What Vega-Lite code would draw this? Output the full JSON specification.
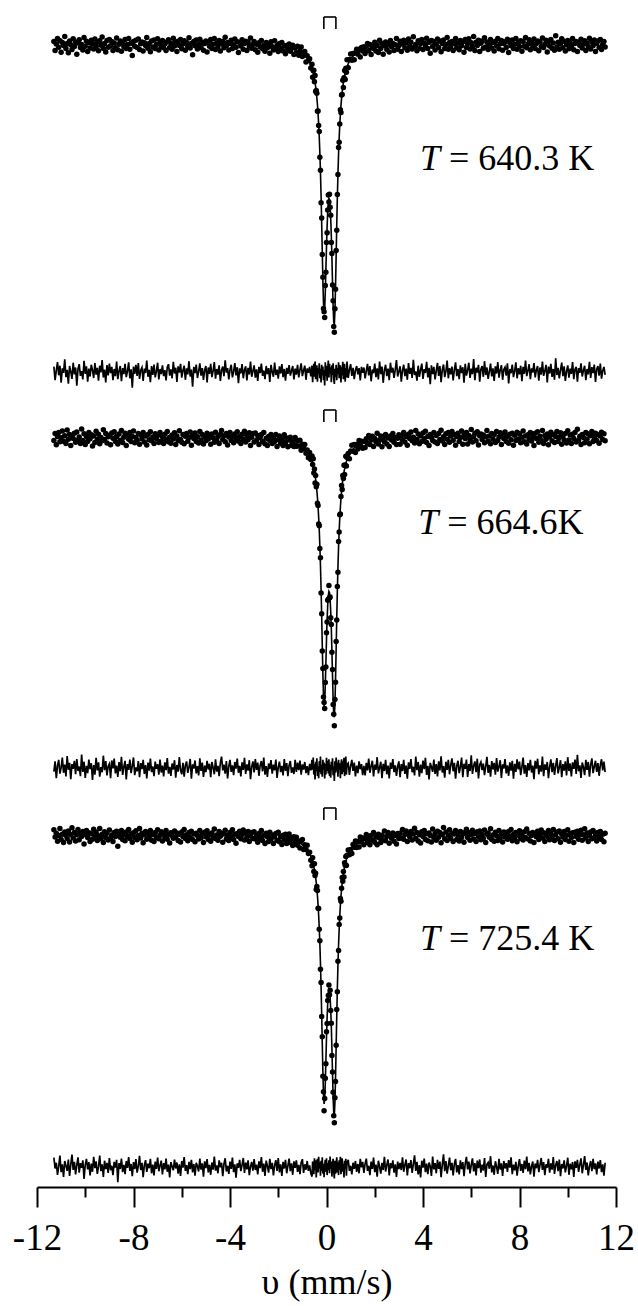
{
  "$schema": "https://vega.github.io/schema/vega-lite/v6.json",
  "autosize": {"type": "none"},
  "width": 579,
  "height": 1187,
  "padding": {"left": 37, "top": 0, "right": 22, "bottom": 119},
  "background": "white",
  "config": {"view": {"stroke": null}, "font": "Liberation Serif"},
  "data": {"values": [
    {"v":-11.3,"a":100.18,"b":99.88,"c":100.31,"p":0.18,"q":-0.12,"r":0.31},
    {"v":-11.25,"a":99.73,"b":100.22,"c":99.95,"p":-0.27,"q":0.22,"r":-0.05},
    {"v":-11.2,"a":100.05,"b":99.66,"c":100.14,"p":0.05,"q":-0.34,"r":0.14},
    {"v":-11.15,"a":100.33,"b":100.08,"c":99.74,"p":0.33,"q":0.08,"r":-0.26},
    {"v":-11.1,"a":99.89,"b":100.27,"c":100.02,"p":-0.11,"q":0.27,"r":0.02},
    {"v":-11.05,"a":100.21,"b":99.81,"c":100.38,"p":0.21,"q":-0.19,"r":0.38},
    {"v":-11.0,"a":99.64,"b":100.01,"c":99.83,"p":-0.36,"q":0.01,"r":-0.17},
    {"v":-10.95,"a":100.12,"b":100.35,"c":100.09,"p":0.12,"q":0.35,"r":0.09},
    {"v":-10.9,"a":99.97,"b":99.84,"c":99.67,"p":-0.03,"q":-0.16,"r":-0.33},
    {"v":-10.85,"a":100.42,"b":100.11,"c":100.2,"p":0.42,"q":0.11,"r":0.2},
    {"v":-10.8,"a":99.83,"b":99.72,"c":100.04,"p":-0.17,"q":-0.28,"r":0.04},
    {"v":-10.75,"a":100.07,"b":100.4,"c":99.87,"p":0.07,"q":0.4,"r":-0.13},
    {"v":-10.7,"a":99.61,"b":99.94,"c":100.25,"p":-0.39,"q":-0.06,"r":0.25},
    {"v":-10.65,"a":100.2,"b":100.17,"c":99.7,"p":0.2,"q":0.17,"r":-0.3},
    {"v":-10.6,"a":100.01,"b":99.63,"c":100.08,"p":0.01,"q":-0.37,"r":0.08},
    {"v":-10.55,"a":99.77,"b":100.13,"c":100.41,"p":-0.23,"q":0.13,"r":0.41},
    {"v":-10.5,"a":100.31,"b":99.97,"c":99.9,"p":0.31,"q":-0.03,"r":-0.1},
    {"v":-10.45,"a":99.92,"b":100.24,"c":100.17,"p":-0.08,"q":0.24,"r":0.17},
    {"v":-10.4,"a":100.15,"b":99.79,"c":99.75,"p":0.15,"q":-0.21,"r":-0.25},
    {"v":-10.35,"a":99.54,"b":100.3,"c":100.06,"p":-0.46,"q":0.3,"r":0.06},
    {"v":-10.3,"a":100.1,"b":99.9,"c":100.32,"p":0.1,"q":-0.1,"r":0.32},
    {"v":-10.25,"a":100.26,"b":100.05,"c":99.81,"p":0.26,"q":0.05,"r":-0.19},
    {"v":-10.2,"a":99.87,"b":99.73,"c":100.13,"p":-0.13,"q":-0.27,"r":0.13},
    {"v":-10.15,"a":100.03,"b":100.45,"c":99.97,"p":0.03,"q":0.45,"r":-0.03},
    {"v":-10.1,"a":99.75,"b":99.87,"c":100.22,"p":-0.25,"q":-0.13,"r":0.22},
    {"v":-10.05,"a":100.37,"b":100.21,"c":99.6,"p":0.37,"q":0.21,"r":-0.4},
    {"v":-10.0,"a":99.94,"b":99.67,"c":100.07,"p":-0.06,"q":-0.33,"r":0.07},
    {"v":-9.95,"a":100.19,"b":100.07,"c":100.27,"p":0.19,"q":0.07,"r":0.27},
    {"v":-9.9,"a":99.68,"b":99.83,"c":99.92,"p":-0.32,"q":-0.17,"r":-0.08},
    {"v":-9.85,"a":100.11,"b":100.28,"c":100.16,"p":0.11,"q":0.28,"r":0.16},
    {"v":-9.8,"a":99.85,"b":99.96,"c":99.72,"p":-0.15,"q":-0.04,"r":-0.28},
    {"v":-9.75,"a":100.24,"b":100.16,"c":100.11,"p":0.24,"q":0.16,"r":0.11},
    {"v":-9.7,"a":100.06,"b":99.6,"c":99.84,"p":0.06,"q":-0.4,"r":-0.16},
    {"v":-9.65,"a":99.8,"b":100.1,"c":100.34,"p":-0.2,"q":0.1,"r":0.34},
    {"v":-9.6,"a":100.3,"b":99.78,"c":99.96,"p":0.3,"q":-0.22,"r":-0.04},
    {"v":-9.55,"a":99.91,"b":100.34,"c":100.19,"p":-0.09,"q":0.34,"r":0.19},
    {"v":-9.5,"a":100.14,"b":99.92,"c":99.77,"p":0.14,"q":-0.08,"r":-0.23},
    {"v":-9.45,"a":99.71,"b":100.19,"c":100.01,"p":-0.29,"q":0.19,"r":0.01},
    {"v":-9.4,"a":100.21,"b":99.71,"c":100.38,"p":0.21,"q":-0.29,"r":0.38},
    {"v":-9.35,"a":99.99,"b":100.03,"c":99.86,"p":-0.01,"q":0.03,"r":-0.14},
    {"v":-9.3,"a":100.4,"b":99.86,"c":100.09,"p":0.4,"q":-0.14,"r":0.09},
    {"v":-9.25,"a":99.82,"b":100.41,"c":99.67,"p":-0.18,"q":0.41,"r":-0.33},
    {"v":-9.2,"a":100.08,"b":99.93,"c":100.21,"p":0.08,"q":-0.07,"r":0.21},
    {"v":-9.15,"a":99.65,"b":100.23,"c":99.93,"p":-0.35,"q":0.23,"r":-0.07},
    {"v":-9.1,"a":100.23,"b":99.75,"c":100.14,"p":0.23,"q":-0.25,"r":0.14},
    {"v":-9.05,"a":99.89,"b":100.06,"c":99.8,"p":-0.11,"q":0.06,"r":-0.2},
    {"v":-9.0,"a":100.28,"b":100.14,"c":100.3,"p":0.28,"q":0.14,"r":0.3},
    {"v":-8.95,"a":99.96,"b":99.66,"c":99.89,"p":-0.04,"q":-0.34,"r":-0.11},
    {"v":-8.9,"a":100.17,"b":100.25,"c":100.04,"p":0.17,"q":0.25,"r":0.04},
    {"v":-8.85,"a":99.73,"b":99.99,"c":99.73,"p":-0.27,"q":-0.01,"r":-0.27},
    {"v":-8.8,"a":100.1,"b":100.31,"c":100.17,"p":0.1,"q":0.31,"r":0.17},
    {"v":-8.75,"a":99.86,"b":99.82,"c":99.98,"p":-0.14,"q":-0.18,"r":-0.02},
    {"v":-8.7,"a":100.35,"b":100.08,"c":100.24,"p":0.35,"q":0.08,"r":0.24},
    {"v":-8.65,"a":99.76,"b":99.7,"c":99.49,"p":-0.24,"q":-0.3,"r":-0.51},
    {"v":-8.6,"a":100.04,"b":100.2,"c":100.13,"p":0.04,"q":0.2,"r":0.13},
    {"v":-8.55,"a":100.2,"b":99.89,"c":99.94,"p":0.2,"q":-0.11,"r":-0.06},
    {"v":-8.5,"a":99.69,"b":100.37,"c":100.28,"p":-0.31,"q":0.37,"r":0.28},
    {"v":-8.45,"a":100.13,"b":99.77,"c":99.83,"p":0.13,"q":-0.23,"r":-0.17},
    {"v":-8.4,"a":99.93,"b":100.04,"c":100.07,"p":-0.07,"q":0.04,"r":0.07},
    {"v":-8.35,"a":100.27,"b":100.24,"c":99.76,"p":0.27,"q":0.24,"r":-0.24},
    {"v":-8.3,"a":99.83,"b":99.62,"c":100.2,"p":-0.17,"q":-0.38,"r":0.2},
    {"v":-8.25,"a":100.03,"b":100.13,"c":99.97,"p":0.03,"q":0.13,"r":-0.03},
    {"v":-8.2,"a":100.32,"b":99.94,"c":100.33,"p":0.32,"q":-0.06,"r":0.33},
    {"v":-8.15,"a":99.79,"b":100.28,"c":99.87,"p":-0.21,"q":0.28,"r":-0.13},
    {"v":-8.1,"a":100.09,"b":99.83,"c":100.1,"p":0.09,"q":-0.17,"r":0.1},
    {"v":-8.05,"a":99.48,"b":100.07,"c":99.69,"p":-0.52,"q":0.07,"r":-0.31},
    {"v":-8.0,"a":100.18,"b":100.35,"c":100.16,"p":0.18,"q":0.35,"r":0.16},
    {"v":-7.95,"a":99.94,"b":99.76,"c":99.93,"p":-0.06,"q":-0.24,"r":-0.07},
    {"v":-7.9,"a":100.24,"b":100.02,"c":100.26,"p":0.24,"q":0.02,"r":0.26},
    {"v":-7.85,"a":99.87,"b":99.89,"c":99.81,"p":-0.13,"q":-0.11,"r":-0.19},
    {"v":-7.8,"a":100.3,"b":100.23,"c":100.03,"p":0.3,"q":0.23,"r":0.03},
    {"v":-7.75,"a":99.77,"b":99.69,"c":100.37,"p":-0.23,"q":-0.31,"r":0.37},
    {"v":-7.7,"a":100.06,"b":100.16,"c":99.9,"p":0.06,"q":0.16,"r":-0.1},
    {"v":-7.65,"a":100.15,"b":99.96,"c":100.14,"p":0.15,"q":-0.04,"r":0.14},
    {"v":-7.6,"a":99.7,"b":100.27,"c":99.66,"p":-0.3,"q":0.27,"r":-0.34},
    {"v":-7.55,"a":100.11,"b":99.8,"c":100.06,"p":0.11,"q":-0.2,"r":0.06},
    {"v":-7.5,"a":99.97,"b":100.1,"c":100.23,"p":-0.03,"q":0.1,"r":0.23},
    {"v":-7.45,"a":100.38,"b":99.65,"c":99.84,"p":0.38,"q":-0.35,"r":-0.16},
    {"v":-7.4,"a":99.84,"b":100.18,"c":100.11,"p":-0.16,"q":0.18,"r":0.11},
    {"v":-7.35,"a":100.07,"b":99.91,"c":99.96,"p":0.07,"q":-0.09,"r":-0.04},
    {"v":-7.3,"a":99.66,"b":100.31,"c":100.27,"p":-0.34,"q":0.31,"r":0.27},
    {"v":-7.25,"a":100.2,"b":99.86,"c":99.79,"p":0.2,"q":-0.14,"r":-0.21},
    {"v":-7.2,"a":99.9,"b":100.05,"c":100.08,"p":-0.1,"q":0.05,"r":0.08},
    {"v":-7.15,"a":100.25,"b":99.73,"c":99.72,"p":0.25,"q":-0.27,"r":-0.28},
    {"v":-7.1,"a":99.82,"b":100.21,"c":100.18,"p":-0.18,"q":0.21,"r":0.18},
    {"v":-7.05,"a":100.02,"b":99.97,"c":99.94,"p":0.02,"q":-0.03,"r":-0.06},
    {"v":-7.0,"a":100.31,"b":100.13,"c":100.31,"p":0.31,"q":0.13,"r":0.31},
    {"v":-6.95,"a":99.75,"b":99.78,"c":99.86,"p":-0.25,"q":-0.22,"r":-0.14},
    {"v":-6.9,"a":100.1,"b":100.28,"c":100.04,"p":0.1,"q":0.28,"r":0.04},
    {"v":-6.85,"a":99.93,"b":99.85,"c":100.21,"p":-0.07,"q":-0.15,"r":0.21},
    {"v":-6.8,"a":100.22,"b":100.08,"c":99.75,"p":0.22,"q":0.08,"r":-0.25},
    {"v":-6.75,"a":99.86,"b":99.72,"c":100.13,"p":-0.14,"q":-0.28,"r":0.13},
    {"v":-6.7,"a":100.06,"b":100.19,"c":99.92,"p":0.06,"q":0.19,"r":-0.08},
    {"v":-6.65,"a":99.72,"b":99.93,"c":100.28,"p":-0.28,"q":-0.07,"r":0.28},
    {"v":-6.6,"a":100.16,"b":100.33,"c":99.84,"p":0.16,"q":0.33,"r":-0.16},
    {"v":-6.55,"a":100.26,"b":99.81,"c":100.08,"p":0.26,"q":-0.19,"r":0.08},
    {"v":-6.5,"a":99.88,"b":100.04,"c":99.65,"p":-0.12,"q":0.04,"r":-0.35},
    {"v":-6.45,"a":100.09,"b":99.74,"c":100.16,"p":0.09,"q":-0.26,"r":0.16},
    {"v":-6.4,"a":99.79,"b":100.15,"c":100.02,"p":-0.21,"q":0.15,"r":0.02},
    {"v":-6.35,"a":100.34,"b":99.95,"c":99.89,"p":0.34,"q":-0.05,"r":-0.11},
    {"v":-6.3,"a":99.95,"b":100.26,"c":100.25,"p":-0.05,"q":0.26,"r":0.25},
    {"v":-6.25,"a":100.14,"b":99.68,"c":99.95,"p":0.14,"q":-0.32,"r":-0.05},
    {"v":-6.2,"a":99.67,"b":100.1,"c":100.15,"p":-0.33,"q":0.1,"r":0.15},
    {"v":-6.15,"a":100.19,"b":99.88,"c":99.78,"p":0.19,"q":-0.12,"r":-0.22},
    {"v":-6.1,"a":99.98,"b":100.36,"c":100.09,"p":-0.02,"q":0.36,"r":0.09},
    {"v":-6.05,"a":100.27,"b":99.92,"c":99.7,"p":0.27,"q":-0.08,"r":-0.3},
    {"v":-6.0,"a":99.81,"b":99.79,"c":100.2,"p":-0.19,"q":-0.21,"r":0.2},
    {"v":-5.95,"a":100.05,"b":100.17,"c":99.98,"p":0.05,"q":0.17,"r":-0.02},
    {"v":-5.9,"a":100.21,"b":99.71,"c":100.33,"p":0.21,"q":-0.29,"r":0.33},
    {"v":-5.85,"a":99.74,"b":100.09,"c":99.87,"p":-0.26,"q":0.09,"r":-0.13},
    {"v":-5.8,"a":100.12,"b":100.22,"c":100.06,"p":0.12,"q":0.22,"r":0.06},
    {"v":-5.75,"a":99.92,"b":99.84,"c":99.76,"p":-0.08,"q":-0.16,"r":-0.24},
    {"v":-5.7,"a":100.36,"b":100.03,"c":100.17,"p":0.36,"q":0.03,"r":0.17},
    {"v":-5.65,"a":99.85,"b":100.3,"c":99.93,"p":-0.15,"q":0.3,"r":-0.07},
    {"v":-5.6,"a":100.08,"b":99.64,"c":100.24,"p":0.08,"q":-0.36,"r":0.24},
    {"v":-5.55,"a":99.51,"b":100.12,"c":99.82,"p":-0.49,"q":0.12,"r":-0.18},
    {"v":-5.5,"a":100.17,"b":99.98,"c":100.1,"p":0.17,"q":-0.02,"r":0.1},
    {"v":-5.45,"a":99.96,"b":100.25,"c":99.71,"p":-0.04,"q":0.25,"r":-0.29},
    {"v":-5.4,"a":100.25,"b":99.82,"c":100.14,"p":0.25,"q":-0.18,"r":0.14},
    {"v":-5.35,"a":99.8,"b":100.06,"c":100.03,"p":-0.2,"q":0.06,"r":0.03},
    {"v":-5.3,"a":100.02,"b":99.75,"c":99.85,"p":0.02,"q":-0.25,"r":-0.15},
    {"v":-5.25,"a":100.29,"b":100.32,"c":100.28,"p":0.29,"q":0.32,"r":0.28},
    {"v":-5.2,"a":99.88,"b":99.9,"c":99.91,"p":-0.12,"q":-0.1,"r":-0.09},
    {"v":-5.15,"a":100.13,"b":100.18,"c":100.12,"p":0.13,"q":0.18,"r":0.12},
    {"v":-5.1,"a":99.74,"b":99.7,"c":99.68,"p":-0.26,"q":-0.3,"r":-0.32},
    {"v":-5.05,"a":100.07,"b":100.08,"c":100.19,"p":0.07,"q":0.08,"r":0.19},
    {"v":-5.0,"a":100.2,"b":99.86,"c":99.96,"p":0.2,"q":-0.14,"r":-0.04},
    {"v":-4.95,"a":99.65,"b":100.24,"c":100.26,"p":-0.35,"q":0.24,"r":0.26},
    {"v":-4.9,"a":100.15,"b":99.95,"c":99.82,"p":0.15,"q":-0.05,"r":-0.18},
    {"v":-4.85,"a":99.94,"b":100.14,"c":100.07,"p":-0.06,"q":0.14,"r":0.07},
    {"v":-4.8,"a":100.27,"b":99.69,"c":99.74,"p":0.27,"q":-0.31,"r":-0.26},
    {"v":-4.75,"a":99.83,"b":100.2,"c":100.15,"p":-0.17,"q":0.2,"r":0.15},
    {"v":-4.7,"a":100.04,"b":100.01,"c":99.91,"p":0.04,"q":0.01,"r":-0.09},
    {"v":-4.65,"a":100.33,"b":99.79,"c":100.35,"p":0.33,"q":-0.21,"r":0.35},
    {"v":-4.6,"a":99.78,"b":100.29,"c":99.88,"p":-0.22,"q":0.29,"r":-0.12},
    {"v":-4.55,"a":100.1,"b":99.88,"c":100.05,"p":0.1,"q":-0.12,"r":0.05},
    {"v":-4.5,"a":99.91,"b":100.07,"c":99.79,"p":-0.09,"q":0.07,"r":-0.21},
    {"v":-4.45,"a":100.22,"b":99.73,"c":100.22,"p":0.22,"q":-0.27,"r":0.22},
    {"v":-4.4,"a":99.7,"b":100.17,"c":99.99,"p":-0.3,"q":0.17,"r":-0.01},
    {"v":-4.35,"a":100.06,"b":100.38,"c":100.14,"p":0.06,"q":0.38,"r":0.14},
    {"v":-4.3,"a":100.18,"b":99.92,"c":99.69,"p":0.18,"q":-0.08,"r":-0.31},
    {"v":-4.25,"a":99.86,"b":100.11,"c":100.1,"p":-0.14,"q":0.11,"r":0.1},
    {"v":-4.2,"a":100.39,"b":99.81,"c":100.29,"p":0.39,"q":-0.19,"r":0.29},
    {"v":-4.15,"a":99.98,"b":100.23,"c":99.85,"p":-0.02,"q":0.23,"r":-0.15},
    {"v":-4.1,"a":100.13,"b":99.65,"c":100.04,"p":0.13,"q":-0.35,"r":0.04},
    {"v":-4.05,"a":99.75,"b":100.05,"c":99.77,"p":-0.25,"q":0.05,"r":-0.23},
    {"v":-4.0,"a":100.08,"b":100.27,"c":100.18,"p":0.08,"q":0.27,"r":0.18},
    {"v":-3.95,"a":100.24,"b":99.87,"c":99.94,"p":0.24,"q":-0.13,"r":-0.06},
    {"v":-3.9,"a":99.82,"b":100.09,"c":100.31,"p":-0.18,"q":0.09,"r":0.31},
    {"v":-3.85,"a":100.01,"b":99.76,"c":99.83,"p":0.01,"q":-0.24,"r":-0.17},
    {"v":-3.8,"a":100.3,"b":100.2,"c":100.09,"p":0.3,"q":0.2,"r":0.09},
    {"v":-3.75,"a":99.89,"b":99.98,"c":99.64,"p":-0.11,"q":-0.02,"r":-0.36},
    {"v":-3.7,"a":100.16,"b":100.31,"c":100.12,"p":0.16,"q":0.31,"r":0.12},
    {"v":-3.65,"a":99.63,"b":99.84,"c":99.97,"p":-0.37,"q":-0.16,"r":-0.03},
    {"v":-3.6,"a":100.12,"b":100.07,"c":100.24,"p":0.12,"q":0.07,"r":0.24},
    {"v":-3.55,"a":99.95,"b":99.72,"c":99.86,"p":-0.05,"q":-0.28,"r":-0.14},
    {"v":-3.5,"a":100.26,"b":100.19,"c":100.07,"p":0.26,"q":0.19,"r":0.07},
    {"v":-3.45,"a":99.79,"b":99.94,"c":100.3,"p":-0.21,"q":-0.06,"r":0.3},
    {"v":-3.4,"a":100.07,"b":100.34,"c":99.8,"p":0.07,"q":0.34,"r":-0.2},
    {"v":-3.35,"a":100.19,"b":99.8,"c":100.15,"p":0.19,"q":-0.2,"r":0.15},
    {"v":-3.3,"a":99.72,"b":100.12,"c":99.92,"p":-0.28,"q":0.12,"r":-0.08},
    {"v":-3.25,"a":100.14,"b":99.91,"c":100.22,"p":0.14,"q":-0.09,"r":0.22},
    {"v":-3.2,"a":99.92,"b":100.26,"c":99.73,"p":-0.08,"q":0.26,"r":-0.27},
    {"v":-3.15,"a":100.35,"b":99.63,"c":100.01,"p":0.35,"q":-0.37,"r":0.01},
    {"v":-3.1,"a":99.84,"b":100.04,"c":100.17,"p":-0.16,"q":0.04,"r":0.17},
    {"v":-3.05,"a":100.03,"b":100.22,"c":99.88,"p":0.03,"q":0.22,"r":-0.12},
    {"v":-3.0,"a":100.17,"b":99.8,"c":100.21,"p":0.22,"q":-0.15,"r":0.26},
    {"v":-2.95,"a":99.76,"b":100.25,"c":99.85,"p":-0.19,"q":0.3,"r":-0.1},
    {"v":-2.9,"a":100.04,"b":99.89,"c":100.03,"p":0.09,"q":-0.06,"r":0.08},
    {"v":-2.85,"a":99.64,"b":100.12,"c":99.69,"p":-0.3,"q":0.18,"r":-0.25},
    {"v":-2.8,"a":100.11,"b":99.68,"c":100.13,"p":0.17,"q":-0.26,"r":0.19},
    {"v":-2.75,"a":99.9,"b":100.03,"c":99.9,"p":-0.04,"q":0.09,"r":-0.04},
    {"v":-2.7,"a":100.22,"b":100.17,"c":100.27,"p":0.28,"q":0.23,"r":0.33},
    {"v":-2.65,"a":99.81,"b":99.83,"c":99.78,"p":-0.13,"q":-0.11,"r":-0.16},
    {"v":-2.6,"a":99.98,"b":100.28,"c":100.04,"p":0.05,"q":0.35,"r":0.11},
    {"v":-2.55,"a":99.69,"b":99.71,"c":99.63,"p":-0.24,"q":-0.22,"r":-0.3},
    {"v":-2.5,"a":100.13,"b":99.99,"c":100.14,"p":0.2,"q":0.06,"r":0.21},
    {"v":-2.45,"a":99.86,"b":99.63,"c":99.96,"p":-0.07,"q":-0.3,"r":0.03},
    {"v":-2.4,"a":100.05,"b":100.07,"c":99.73,"p":0.13,"q":0.15,"r":-0.19},
    {"v":-2.35,"a":99.59,"b":99.88,"c":100.19,"p":-0.33,"q":-0.04,"r":0.27},
    {"v":-2.3,"a":100.16,"b":100.18,"c":99.85,"p":0.24,"q":0.26,"r":-0.07},
    {"v":-2.25,"a":99.91,"b":99.72,"c":100.05,"p":0.0,"q":-0.19,"r":0.14},
    {"v":-2.2,"a":99.75,"b":100.02,"c":99.63,"p":-0.16,"q":0.11,"r":-0.28},
    {"v":-2.15,"a":100.21,"b":99.82,"c":99.96,"p":0.31,"q":-0.08,"r":0.06},
    {"v":-2.1,"a":99.8,"b":100.18,"c":100.13,"p":-0.1,"q":0.28,"r":0.23},
    {"v":-2.05,"a":99.98,"b":99.57,"c":99.77,"p":0.08,"q":-0.33,"r":-0.13},
    {"v":-2.0,"f":99.89,"a":99.67,"b":99.91,"c":100.19,"p":-0.22,"q":0.02,"r":0.3},
    {"v":-1.95,"f":99.89,"a":100.08,"b":100.1,"c":99.71,"p":0.19,"q":0.21,"r":-0.18},
    {"v":-1.9,"f":99.88,"a":99.83,"b":99.74,"c":99.97,"p":-0.05,"q":-0.14,"r":0.09},
    {"v":-1.85,"f":99.87,"a":100.13,"b":99.94,"c":99.57,"p":0.26,"q":0.07,"r":-0.3},
    {"v":-1.8,"f":99.87,"a":99.7,"b":99.62,"c":100.04,"p":-0.17,"q":-0.25,"r":0.17},
    {"v":-1.75,"f":99.86,"a":99.96,"b":100.16,"c":99.81,"p":0.1,"q":0.3,"r":-0.05},
    {"v":-1.7,"f":99.85,"a":99.56,"b":99.75,"c":100.09,"p":-0.29,"q":-0.1,"r":0.24},
    {"v":-1.65,"f":99.84,"a":99.98,"b":100.0,"c":99.63,"p":0.14,"q":0.16,"r":-0.21},
    {"v":-1.6,"f":99.83,"a":99.77,"b":99.56,"c":99.87,"p":-0.06,"q":-0.27,"r":0.04},
    {"v":-1.55,"f":99.82,"a":100.05,"b":99.91,"c":100.1,"p":0.23,"q":0.09,"r":0.28},
    {"v":-1.5,"f":99.81,"a":99.69,"b":100.04,"c":99.67,"p":-0.12,"q":0.23,"r":-0.14},
    {"v":-1.45,"f":99.8,"a":99.84,"b":99.64,"c":99.92,"p":0.04,"q":-0.16,"r":0.12},
    {"v":-1.4,"f":99.79,"a":99.99,"b":99.81,"c":99.53,"p":0.2,"q":0.02,"r":-0.26},
    {"v":-1.35,"f":99.77,"a":99.52,"b":99.57,"c":99.96,"p":-0.25,"q":-0.2,"r":0.19},
    {"v":-1.3,"f":99.75,"a":99.86,"b":100.02,"c":99.72,"p":0.11,"q":0.27,"r":-0.03},
    {"v":-1.25,"f":99.72,"a":99.63,"b":99.59,"c":99.94,"p":-0.09,"q":-0.13,"r":0.22},
    {"v":-1.2,"f":99.7,"a":99.94,"b":99.88,"c":99.54,"p":0.24,"q":0.18,"r":-0.16},
    {"v":-1.15,"f":99.67,"a":99.49,"b":99.6,"c":99.74,"p":-0.18,"q":-0.07,"r":0.07},
    {"v":-1.1,"f":99.64,"a":99.71,"b":99.89,"c":99.4,"p":0.07,"q":0.25,"r":-0.24},
    {"v":-1.05,"f":99.61,"a":99.9,"b":99.39,"c":99.76,"p":0.29,"q":-0.22,"r":0.15},
    {"v":-1.0,"f":99.57,"a":99.43,"b":99.69,"c":99.83,"p":-0.14,"q":0.12,"r":0.26},
    {"v":-0.95,"f":99.53,"a":99.58,"b":99.48,"c":99.33,"p":0.05,"q":-0.05,"r":-0.2},
    {"v":-0.9,"f":99.47,"a":99.68,"b":99.67,"c":99.56,"p":0.21,"q":0.2,"r":0.09},
    {"v":-0.85,"f":99.41,"a":99.15,"b":99.24,"c":99.32,"p":-0.26,"q":-0.17,"r":-0.09},
    {"v":-0.8,"f":99.34,"a":99.46,"b":99.4,"c":99.54,"p":0.12,"q":0.06,"r":0.2},
    {"v":-0.75,"f":99.25,"a":99.22,"b":99.01,"c":99.12,"p":-0.03,"q":-0.24,"r":-0.13},
    {"v":-0.7,"f":99.14,"a":99.31,"b":99.28,"c":99.19,"p":0.17,"q":0.14,"r":0.05},
    {"v":-0.65,"f":99.0,"a":98.85,"b":98.92,"c":98.79,"p":-0.15,"q":-0.08,"r":-0.21},
    {"v":-0.6,"f":98.83,"a":99.04,"b":99.1,"c":98.51,"p":0.21,"q":0.27,"r":-0.32},
    {"v":-0.575,"f":98.73,"a":98.39,"b":98.67,"c":98.91,"p":-0.34,"q":-0.06,"r":0.18},
    {"v":-0.55,"f":98.61,"a":98.71,"b":98.96,"c":98.63,"p":0.1,"q":0.35,"r":0.02},
    {"v":-0.525,"f":98.47,"a":98.74,"b":98.25,"c":98.23,"p":0.27,"q":-0.22,"r":-0.24},
    {"v":-0.5,"f":98.32,"a":98.16,"b":98.45,"c":98.61,"p":-0.16,"q":0.13,"r":0.29},
    {"v":-0.475,"f":98.13,"a":98.48,"b":97.75,"c":98.02,"p":0.35,"q":-0.38,"r":-0.11},
    {"v":-0.45,"f":97.92,"a":97.68,"b":98.13,"c":98.14,"p":-0.24,"q":0.21,"r":0.22},
    {"v":-0.425,"f":97.67,"a":97.72,"b":97.56,"c":97.32,"p":0.05,"q":-0.11,"r":-0.35},
    {"v":-0.4,"f":97.37,"a":97.59,"b":97.69,"c":97.47,"p":0.22,"q":0.32,"r":0.1},
    {"v":-0.375,"f":97.01,"a":96.69,"b":96.74,"c":97.28,"p":-0.32,"q":-0.27,"r":0.27},
    {"v":-0.35,"f":96.57,"a":96.7,"b":96.63,"c":96.39,"p":0.13,"q":0.06,"r":-0.18},
    {"v":-0.325,"f":96.04,"a":95.98,"b":95.7,"c":96.38,"p":-0.06,"q":-0.34,"r":0.34},
    {"v":-0.3,"f":95.39,"a":95.68,"b":95.61,"c":95.34,"p":0.29,"q":0.22,"r":-0.05},
    {"v":-0.275,"f":94.6,"a":94.39,"b":94.47,"c":94.76,"p":-0.21,"q":-0.13,"r":0.16},
    {"v":-0.25,"f":93.63,"a":93.74,"b":94.01,"c":93.34,"p":0.11,"q":0.38,"r":-0.29},
    {"v":-0.225,"f":92.46,"a":92.11,"b":92.25,"c":92.67,"p":-0.35,"q":-0.21,"r":0.21},
    {"v":-0.2,"f":91.11,"a":91.35,"b":91.21,"c":90.98,"p":0.24,"q":0.1,"r":-0.13},
    {"v":-0.175,"f":89.64,"a":89.53,"b":89.35,"c":89.96,"p":-0.11,"q":-0.29,"r":0.32},
    {"v":-0.15,"f":88.21,"a":88.39,"b":88.48,"c":87.99,"p":0.18,"q":0.27,"r":-0.22},
    {"v":-0.125,"f":87.1,"a":86.83,"b":87.05,"c":87.21,"p":-0.27,"q":-0.05,"r":0.11},
    {"v":-0.1,"f":86.6,"a":86.66,"b":86.78,"c":86.26,"p":0.06,"q":0.18,"r":-0.34},
    {"v":-0.075,"f":86.83,"a":86.38,"b":86.48,"c":86.88,"p":-0.45,"q":-0.35,"r":0.05},
    {"v":-0.05,"f":87.65,"a":87.97,"b":87.78,"c":87.89,"p":0.32,"q":0.13,"r":0.24},
    {"v":-0.025,"f":88.77,"a":88.64,"b":88.55,"c":88.61,"p":-0.13,"q":-0.22,"r":-0.16},
    {"v":0.0,"f":89.92,"a":90.13,"b":90.26,"c":90.21,"p":0.21,"q":0.34,"r":0.29},
    {"v":0.025,"f":90.9,"a":90.61,"b":90.8,"c":90.63,"p":-0.29,"q":-0.1,"r":-0.27},
    {"v":0.05,"f":91.65,"a":91.75,"b":91.89,"c":91.78,"p":0.1,"q":0.24,"r":0.13},
    {"v":0.075,"f":92.12,"a":92.5,"b":91.94,"c":92.02,"p":0.38,"q":-0.18,"r":-0.1},
    {"v":0.1,"f":92.33,"a":92.15,"b":92.62,"c":92.55,"p":-0.18,"q":0.29,"r":0.22},
    {"v":0.125,"f":92.27,"a":92.54,"b":92.0,"c":92.06,"p":0.27,"q":-0.27,"r":-0.21},
    {"v":0.15,"f":91.94,"a":91.89,"b":92.05,"c":92.29,"p":-0.05,"q":0.11,"r":0.35},
    {"v":0.175,"f":91.33,"a":91.49,"b":91.01,"c":91.27,"p":0.16,"q":-0.32,"r":-0.06},
    {"v":0.2,"f":90.46,"a":90.12,"b":90.67,"c":90.64,"p":-0.34,"q":0.21,"r":0.18},
    {"v":0.225,"f":89.35,"a":89.57,"b":89.29,"c":89.03,"p":0.22,"q":-0.06,"r":-0.32},
    {"v":0.25,"f":88.1,"a":88.0,"b":88.42,"c":88.2,"p":-0.1,"q":0.32,"r":0.1},
    {"v":0.275,"f":86.92,"a":87.21,"b":86.68,"c":87.19,"p":0.29,"q":-0.24,"r":0.27},
    {"v":0.3,"f":86.14,"a":85.92,"b":86.19,"c":86.01,"p":-0.22,"q":0.05,"r":-0.13},
    {"v":0.325,"f":86.04,"a":85.64,"b":85.61,"c":85.66,"p":-0.4,"q":-0.43,"r":-0.38},
    {"v":0.35,"f":86.7,"a":86.81,"b":86.92,"c":86.91,"p":0.11,"q":0.22,"r":0.21},
    {"v":0.375,"f":87.95,"a":87.79,"b":87.79,"c":87.73,"p":-0.16,"q":-0.16,"r":-0.22},
    {"v":0.4,"f":89.48,"a":89.72,"b":89.83,"c":89.54,"p":0.24,"q":0.35,"r":0.06},
    {"v":0.425,"f":91.01,"a":90.74,"b":90.9,"c":91.33,"p":-0.27,"q":-0.11,"r":0.32},
    {"v":0.45,"f":92.39,"a":92.52,"b":92.57,"c":92.21,"p":0.13,"q":0.18,"r":-0.18},
    {"v":0.475,"f":93.58,"a":93.52,"b":93.29,"c":93.74,"p":-0.06,"q":-0.29,"r":0.16},
    {"v":0.5,"f":94.55,"a":94.87,"b":94.82,"c":94.28,"p":0.32,"q":0.27,"r":-0.27},
    {"v":0.525,"f":95.35,"a":95.14,"b":95.3,"c":95.57,"p":-0.21,"q":-0.05,"r":0.22},
    {"v":0.55,"f":96.0,"a":96.05,"b":96.16,"c":95.9,"p":0.05,"q":0.16,"r":-0.1},
    {"v":0.575,"f":96.54,"a":96.76,"b":96.2,"c":96.88,"p":0.22,"q":-0.34,"r":0.34},
    {"v":0.6,"f":96.98,"a":96.63,"b":97.08,"c":96.74,"p":-0.35,"q":0.1,"r":-0.24},
    {"v":0.625,"f":97.34,"a":97.5,"b":97.63,"c":97.39,"p":0.16,"q":0.29,"r":0.05},
    {"v":0.65,"f":97.64,"a":97.53,"b":97.43,"c":97.93,"p":-0.11,"q":-0.21,"r":0.29},
    {"v":0.675,"f":97.9,"a":98.24,"b":98.12,"c":97.74,"p":0.34,"q":0.22,"r":-0.16},
    {"v":0.7,"f":98.11,"a":97.87,"b":97.98,"c":98.22,"p":-0.24,"q":-0.13,"r":0.11},
    {"v":0.725,"f":98.3,"a":98.36,"b":98.64,"c":97.95,"p":0.06,"q":0.34,"r":-0.35},
    {"v":0.75,"f":98.45,"a":98.72,"b":98.18,"c":98.66,"p":0.27,"q":-0.27,"r":0.21},
    {"v":0.775,"f":98.59,"a":98.27,"b":98.65,"c":98.54,"p":-0.32,"q":0.06,"r":-0.05},
    {"v":0.8,"f":98.71,"a":98.84,"b":99.09,"c":98.98,"p":0.13,"q":0.38,"r":0.27},
    {"v":0.825,"f":98.82,"a":98.64,"b":98.6,"c":98.53,"p":-0.18,"q":-0.22,"r":-0.29},
    {"v":0.85,"f":98.91,"a":99.26,"b":99.02,"c":99.04,"p":0.35,"q":0.11,"r":0.13},
    {"v":0.9,"f":99.06,"a":98.86,"b":99.22,"c":99.3,"p":-0.2,"q":0.16,"r":0.24},
    {"v":0.95,"f":99.19,"a":99.27,"b":98.96,"c":99.06,"p":0.08,"q":-0.23,"r":-0.13},
    {"v":1.0,"f":99.29,"a":99.55,"b":99.35,"c":99.33,"p":0.26,"q":0.06,"r":0.04},
    {"v":1.05,"f":99.37,"a":99.24,"b":99.64,"c":99.12,"p":-0.13,"q":0.27,"r":-0.25},
    {"v":1.1,"f":99.44,"a":99.58,"b":99.34,"c":99.58,"p":0.14,"q":-0.1,"r":0.14},
    {"v":1.15,"f":99.5,"a":99.26,"b":99.68,"c":99.44,"p":-0.24,"q":0.18,"r":-0.06},
    {"v":1.2,"f":99.55,"a":99.61,"b":99.27,"c":99.75,"p":0.06,"q":-0.28,"r":0.2},
    {"v":1.25,"f":99.59,"a":99.79,"b":99.67,"c":99.43,"p":0.2,"q":0.08,"r":-0.16},
    {"v":1.3,"f":99.62,"a":99.54,"b":99.45,"c":99.72,"p":-0.08,"q":-0.17,"r":0.1},
    {"v":1.35,"f":99.66,"a":99.79,"b":99.88,"c":99.45,"p":0.13,"q":0.22,"r":-0.21},
    {"v":1.4,"f":99.68,"a":99.4,"b":99.64,"c":99.95,"p":-0.28,"q":-0.04,"r":0.27},
    {"v":1.45,"f":99.71,"a":99.88,"b":99.84,"c":99.7,"p":0.17,"q":0.13,"r":-0.01},
    {"v":1.5,"f":99.73,"a":99.7,"b":99.49,"c":99.9,"p":-0.03,"q":-0.24,"r":0.17},
    {"v":1.55,"f":99.76,"a":99.91,"b":99.83,"c":99.56,"p":0.15,"q":0.07,"r":-0.2},
    {"v":1.6,"f":99.78,"a":99.57,"b":99.53,"c":99.89,"p":-0.21,"q":-0.25,"r":0.11},
    {"v":1.65,"f":99.79,"a":99.83,"b":99.96,"c":100.07,"p":0.04,"q":0.17,"r":0.28},
    {"v":1.7,"f":99.81,"a":100.08,"b":99.73,"c":99.68,"p":0.27,"q":-0.08,"r":-0.13},
    {"v":1.75,"f":99.82,"a":99.71,"b":100.13,"c":99.86,"p":-0.11,"q":0.31,"r":0.04},
    {"v":1.8,"f":99.83,"a":100.03,"b":99.67,"c":99.56,"p":0.2,"q":-0.16,"r":-0.27},
    {"v":1.85,"f":99.84,"a":99.53,"b":99.9,"c":100.02,"p":-0.31,"q":0.06,"r":0.18},
    {"v":1.9,"f":99.85,"a":99.93,"b":100.09,"c":99.79,"p":0.08,"q":0.24,"r":-0.06},
    {"v":1.95,"f":99.86,"a":99.82,"b":99.58,"c":100.17,"p":-0.04,"q":-0.28,"r":0.31},
    {"v":2.0,"f":99.86,"a":100.14,"b":99.97,"c":99.69,"p":0.28,"q":0.11,"r":-0.17},
    {"v":2.05,"f":99.87,"a":99.7,"b":99.81,"c":99.95,"p":-0.17,"q":-0.06,"r":0.08},
    {"v":2.1,"f":99.88,"a":100.0,"b":100.24,"c":99.56,"p":0.12,"q":0.36,"r":-0.32},
    {"v":2.15,"f":99.88,"a":99.63,"b":99.7,"c":100.09,"p":-0.25,"q":-0.18,"r":0.21},
    {"v":2.2,"f":99.89,"a":100.24,"b":99.9,"c":99.9,"p":0.35,"q":0.01,"r":0.01},
    {"v":2.25,"a":99.82,"b":100.1,"c":99.67,"p":-0.07,"q":0.21,"r":-0.22},
    {"v":2.3,"a":100.08,"b":99.56,"c":100.04,"p":0.18,"q":-0.34,"r":0.14},
    {"v":2.35,"a":99.54,"b":100.04,"c":99.8,"p":-0.36,"q":0.14,"r":-0.1},
    {"v":2.4,"a":99.97,"b":99.81,"c":100.25,"p":0.06,"q":-0.1,"r":0.34},
    {"v":2.45,"a":100.15,"b":100.18,"c":99.76,"p":0.24,"q":0.27,"r":-0.15},
    {"v":2.5,"a":99.77,"b":99.7,"c":99.98,"p":-0.14,"q":-0.21,"r":0.07},
    {"v":2.55,"a":100.03,"b":100.0,"c":100.17,"p":0.11,"q":0.08,"r":0.25},
    {"v":2.6,"a":99.65,"b":99.57,"c":99.64,"p":-0.27,"q":-0.35,"r":-0.28},
    {"v":2.65,"a":100.23,"b":100.1,"c":100.05,"p":0.31,"q":0.18,"r":0.13},
    {"v":2.7,"a":99.91,"b":99.9,"c":99.89,"p":-0.02,"q":-0.03,"r":-0.04},
    {"v":2.75,"a":100.07,"b":100.23,"c":100.15,"p":0.14,"q":0.3,"r":0.22},
    {"v":2.8,"a":99.73,"b":99.79,"c":99.74,"p":-0.2,"q":-0.14,"r":-0.19},
    {"v":2.85,"a":100.01,"b":100.02,"c":100.02,"p":0.08,"q":0.09,"r":0.09},
    {"v":2.9,"a":100.33,"b":99.67,"c":99.6,"p":0.4,"q":-0.26,"r":-0.33},
    {"v":2.95,"a":99.79,"b":99.99,"c":100.12,"p":-0.15,"q":0.05,"r":0.18},
    {"v":3.0,"a":99.96,"b":100.16,"c":99.87,"p":0.02,"q":0.22,"r":-0.07},
    {"v":3.05,"a":100.19,"b":99.69,"c":100.14,"p":0.19,"q":-0.31,"r":0.14},
    {"v":3.1,"a":99.68,"b":100.13,"c":99.9,"p":-0.32,"q":0.13,"r":-0.1},
    {"v":3.15,"a":100.05,"b":99.9,"c":100.32,"p":0.05,"q":-0.1,"r":0.32},
    {"v":3.2,"a":100.24,"b":100.27,"c":99.84,"p":0.24,"q":0.27,"r":-0.16},
    {"v":3.25,"a":99.86,"b":99.8,"c":100.07,"p":-0.14,"q":-0.2,"r":0.07},
    {"v":3.3,"a":100.11,"b":100.08,"c":100.25,"p":0.11,"q":0.08,"r":0.25},
    {"v":3.35,"a":99.74,"b":99.64,"c":99.72,"p":-0.26,"q":-0.36,"r":-0.28},
    {"v":3.4,"a":100.3,"b":100.19,"c":100.13,"p":0.3,"q":0.19,"r":0.13},
    {"v":3.45,"a":99.94,"b":99.97,"c":99.96,"p":-0.06,"q":-0.03,"r":-0.04},
    {"v":3.5,"a":100.14,"b":100.3,"c":100.23,"p":0.14,"q":0.3,"r":0.23},
    {"v":3.55,"a":99.8,"b":99.86,"c":99.8,"p":-0.2,"q":-0.14,"r":-0.2},
    {"v":3.6,"a":100.41,"b":100.04,"c":100.1,"p":0.41,"q":0.04,"r":0.1},
    {"v":3.65,"a":99.9,"b":99.75,"c":100.39,"p":-0.1,"q":-0.25,"r":0.39},
    {"v":3.7,"a":100.02,"b":100.38,"c":99.87,"p":0.02,"q":0.38,"r":-0.13},
    {"v":3.75,"a":99.71,"b":99.93,"c":100.17,"p":-0.29,"q":-0.07,"r":0.17},
    {"v":3.8,"a":100.21,"b":100.2,"c":99.75,"p":0.21,"q":0.2,"r":-0.25},
    {"v":3.85,"a":99.84,"b":99.71,"c":100.06,"p":-0.16,"q":-0.29,"r":0.06},
    {"v":3.9,"a":100.07,"b":100.11,"c":99.65,"p":0.07,"q":0.11,"r":-0.35},
    {"v":3.95,"a":100.28,"b":99.83,"c":100.21,"p":0.28,"q":-0.17,"r":0.21},
    {"v":4.0,"a":99.77,"b":100.25,"c":99.98,"p":-0.23,"q":0.25,"r":-0.02},
    {"v":4.05,"a":100.1,"b":99.96,"c":100.28,"p":0.1,"q":-0.04,"r":0.28},
    {"v":4.1,"a":99.97,"b":100.34,"c":99.83,"p":-0.03,"q":0.34,"r":-0.17},
    {"v":4.15,"a":100.34,"b":99.77,"c":100.11,"p":0.34,"q":-0.23,"r":0.11},
    {"v":4.2,"a":99.82,"b":100.07,"c":99.76,"p":-0.18,"q":0.07,"r":-0.24},
    {"v":4.25,"a":100.14,"b":99.62,"c":100.15,"p":0.14,"q":-0.38,"r":0.15},
    {"v":4.3,"a":99.59,"b":100.17,"c":100.03,"p":-0.41,"q":0.17,"r":0.03},
    {"v":4.35,"a":100.22,"b":100.03,"c":99.7,"p":0.22,"q":0.03,"r":-0.3},
    {"v":4.4,"a":99.93,"b":99.87,"c":100.35,"p":-0.07,"q":-0.13,"r":0.35},
    {"v":4.45,"a":100.17,"b":100.28,"c":99.92,"p":0.17,"q":0.28,"r":-0.08},
    {"v":4.5,"a":99.75,"b":99.8,"c":100.13,"p":-0.25,"q":-0.2,"r":0.13},
    {"v":4.55,"a":100.04,"b":100.13,"c":99.79,"p":0.04,"q":0.13,"r":-0.21},
    {"v":4.6,"a":100.3,"b":99.72,"c":100.24,"p":0.3,"q":-0.28,"r":0.24},
    {"v":4.65,"a":99.87,"b":100.22,"c":99.94,"p":-0.13,"q":0.22,"r":-0.06},
    {"v":4.7,"a":100.2,"b":99.92,"c":100.18,"p":0.2,"q":-0.08,"r":0.18},
    {"v":4.75,"a":99.66,"b":100.39,"c":99.66,"p":-0.34,"q":0.39,"r":-0.34},
    {"v":4.8,"a":100.08,"b":99.85,"c":100.08,"p":0.08,"q":-0.15,"r":0.08},
    {"v":4.85,"a":100.25,"b":100.06,"c":100.42,"p":0.25,"q":0.06,"r":0.42},
    {"v":4.9,"a":99.83,"b":99.68,"c":99.86,"p":-0.17,"q":-0.32,"r":-0.14},
    {"v":4.95,"a":100.03,"b":100.21,"c":100.2,"p":0.03,"q":0.21,"r":0.2},
    {"v":5.0,"a":100.38,"b":99.94,"c":99.78,"p":0.38,"q":-0.06,"r":-0.22},
    {"v":5.05,"a":99.79,"b":100.27,"c":100.04,"p":-0.21,"q":0.27,"r":0.04},
    {"v":5.1,"a":100.13,"b":99.79,"c":100.31,"p":0.13,"q":-0.21,"r":0.31},
    {"v":5.15,"a":99.92,"b":100.1,"c":99.89,"p":-0.08,"q":0.1,"r":-0.11},
    {"v":5.2,"a":100.18,"b":100.32,"c":100.14,"p":0.18,"q":0.32,"r":0.14},
    {"v":5.25,"a":99.72,"b":99.89,"c":99.72,"p":-0.28,"q":-0.11,"r":-0.28},
    {"v":5.3,"a":100.07,"b":100.17,"c":100.1,"p":0.07,"q":0.17,"r":0.1},
    {"v":5.35,"a":100.32,"b":99.64,"c":100.27,"p":0.32,"q":-0.36,"r":0.27},
    {"v":5.4,"a":99.86,"b":100.08,"c":99.82,"p":-0.14,"q":0.08,"r":-0.18},
    {"v":5.45,"a":100.1,"b":100.24,"c":100.06,"p":0.1,"q":0.24,"r":0.06},
    {"v":5.5,"a":99.76,"b":99.83,"c":99.75,"p":-0.24,"q":-0.17,"r":-0.25},
    {"v":5.55,"a":100.22,"b":100.03,"c":100.22,"p":0.22,"q":0.03,"r":0.22},
    {"v":5.6,"a":99.96,"b":100.35,"c":99.93,"p":-0.04,"q":0.35,"r":-0.07},
    {"v":5.65,"a":100.16,"b":99.69,"c":100.16,"p":0.16,"q":-0.31,"r":0.16},
    {"v":5.7,"a":99.64,"b":100.14,"c":99.69,"p":-0.36,"q":0.14,"r":-0.31},
    {"v":5.75,"a":100.27,"b":99.97,"c":100.11,"p":0.27,"q":-0.03,"r":0.11},
    {"v":5.8,"a":99.88,"b":100.28,"c":100.34,"p":-0.12,"q":0.28,"r":0.34},
    {"v":5.85,"a":100.06,"b":99.7,"c":99.92,"p":0.06,"q":-0.3,"r":-0.08},
    {"v":5.9,"a":100.31,"b":100.13,"c":100.18,"p":0.31,"q":0.13,"r":0.18},
    {"v":5.95,"a":99.8,"b":99.9,"c":99.79,"p":-0.2,"q":-0.1,"r":-0.21},
    {"v":6.0,"a":100.11,"b":100.42,"c":100.07,"p":0.11,"q":0.42,"r":0.07},
    {"v":6.05,"a":99.93,"b":99.8,"c":100.29,"p":-0.07,"q":-0.2,"r":0.29},
    {"v":6.1,"a":100.43,"b":100.07,"c":99.85,"p":0.43,"q":0.07,"r":-0.15},
    {"v":6.15,"a":99.73,"b":100.22,"c":100.13,"p":-0.27,"q":0.22,"r":0.13},
    {"v":6.2,"a":100.14,"b":99.86,"c":99.72,"p":0.14,"q":-0.14,"r":-0.28},
    {"v":6.25,"a":99.98,"b":100.31,"c":100.21,"p":-0.02,"q":0.31,"r":0.21},
    {"v":6.3,"a":100.24,"b":99.65,"c":99.96,"p":0.24,"q":-0.35,"r":-0.04},
    {"v":6.35,"a":99.68,"b":100.11,"c":100.25,"p":-0.32,"q":0.11,"r":0.25},
    {"v":6.4,"a":100.09,"b":100.2,"c":99.81,"p":0.09,"q":0.2,"r":-0.19},
    {"v":6.45,"a":100.2,"b":99.93,"c":100.08,"p":0.2,"q":-0.07,"r":0.08},
    {"v":6.5,"a":99.84,"b":100.15,"c":99.88,"p":-0.16,"q":0.15,"r":-0.12},
    {"v":6.55,"a":100.36,"b":99.76,"c":100.3,"p":0.36,"q":-0.24,"r":0.3},
    {"v":6.6,"a":99.9,"b":100.06,"c":99.67,"p":-0.1,"q":0.06,"r":-0.33},
    {"v":6.65,"a":100.15,"b":100.37,"c":100.09,"p":0.15,"q":0.37,"r":0.09},
    {"v":6.7,"a":99.77,"b":99.84,"c":100.15,"p":-0.23,"q":-0.16,"r":0.15},
    {"v":6.75,"a":100.01,"b":100.1,"c":99.94,"p":0.01,"q":0.1,"r":-0.06},
    {"v":6.8,"a":100.28,"b":99.71,"c":100.36,"p":0.28,"q":-0.29,"r":0.36},
    {"v":6.85,"a":99.85,"b":100.23,"c":99.82,"p":-0.15,"q":0.23,"r":-0.18},
    {"v":6.9,"a":100.12,"b":99.95,"c":100.05,"p":0.12,"q":-0.05,"r":0.05},
    {"v":6.95,"a":99.7,"b":100.17,"c":99.74,"p":-0.3,"q":0.17,"r":-0.26},
    {"v":7.0,"a":100.19,"b":99.78,"c":100.19,"p":0.19,"q":-0.22,"r":0.19},
    {"v":7.05,"a":99.95,"b":100.33,"c":100.01,"p":-0.05,"q":0.33,"r":0.01},
    {"v":7.1,"a":100.33,"b":99.88,"c":99.77,"p":0.33,"q":-0.12,"r":-0.23},
    {"v":7.15,"a":99.81,"b":100.05,"c":100.27,"p":-0.19,"q":0.05,"r":0.27},
    {"v":7.2,"a":100.06,"b":100.26,"c":99.91,"p":0.06,"q":0.26,"r":-0.09},
    {"v":7.25,"a":100.23,"b":99.67,"c":100.12,"p":0.23,"q":-0.33,"r":0.12},
    {"v":7.3,"a":99.74,"b":100.12,"c":99.7,"p":-0.26,"q":0.12,"r":-0.3},
    {"v":7.35,"a":100.08,"b":99.98,"c":100.2,"p":0.08,"q":-0.02,"r":0.2},
    {"v":7.4,"a":100.16,"b":100.3,"c":99.95,"p":0.16,"q":0.3,"r":-0.05},
    {"v":7.45,"a":99.88,"b":99.82,"c":100.13,"p":-0.12,"q":-0.18,"r":0.13},
    {"v":7.5,"a":100.29,"b":100.09,"c":99.84,"p":0.29,"q":0.09,"r":-0.16},
    {"v":7.55,"a":99.62,"b":99.74,"c":100.23,"p":-0.38,"q":-0.26,"r":0.23},
    {"v":7.6,"a":100.1,"b":100.19,"c":99.98,"p":0.1,"q":0.19,"r":-0.02},
    {"v":7.65,"a":99.96,"b":99.91,"c":100.32,"p":-0.04,"q":-0.09,"r":0.32},
    {"v":7.7,"a":100.25,"b":100.24,"c":99.76,"p":0.25,"q":0.24,"r":-0.24},
    {"v":7.75,"a":99.83,"b":99.64,"c":100.08,"p":-0.17,"q":-0.36,"r":0.08},
    {"v":7.8,"a":100.04,"b":100.14,"c":99.89,"p":0.04,"q":0.14,"r":-0.11},
    {"v":7.85,"a":100.32,"b":99.87,"c":100.17,"p":0.32,"q":-0.13,"r":0.17},
    {"v":7.9,"a":99.79,"b":100.29,"c":99.71,"p":-0.21,"q":0.29,"r":-0.29},
    {"v":7.95,"a":100.13,"b":99.95,"c":100.04,"p":0.13,"q":-0.05,"r":0.04},
    {"v":8.0,"a":99.92,"b":100.21,"c":100.26,"p":-0.08,"q":0.21,"r":0.26},
    {"v":8.05,"a":100.21,"b":99.76,"c":99.87,"p":0.21,"q":-0.24,"r":-0.13},
    {"v":8.1,"a":99.69,"b":100.04,"c":100.1,"p":-0.31,"q":0.04,"r":0.1},
    {"v":8.15,"a":100.17,"b":100.35,"c":99.8,"p":0.17,"q":0.35,"r":-0.2},
    {"v":8.2,"a":99.94,"b":99.81,"c":100.21,"p":-0.06,"q":-0.19,"r":0.21},
    {"v":8.25,"a":100.38,"b":100.1,"c":99.93,"p":0.38,"q":0.1,"r":-0.07},
    {"v":8.3,"a":99.86,"b":99.7,"c":100.35,"p":-0.14,"q":-0.3,"r":0.35},
    {"v":8.35,"a":100.05,"b":100.16,"c":99.85,"p":0.05,"q":0.16,"r":-0.15},
    {"v":8.4,"a":100.26,"b":99.92,"c":100.14,"p":0.26,"q":-0.08,"r":0.14},
    {"v":8.45,"a":99.76,"b":100.27,"c":99.75,"p":-0.24,"q":0.27,"r":-0.25},
    {"v":8.5,"a":100.12,"b":99.85,"c":100.03,"p":0.12,"q":-0.15,"r":0.03},
    {"v":8.55,"a":99.98,"b":100.08,"c":100.18,"p":-0.02,"q":0.08,"r":0.18},
    {"v":8.6,"a":100.3,"b":99.63,"c":99.68,"p":0.3,"q":-0.37,"r":-0.32},
    {"v":8.65,"a":99.82,"b":100.24,"c":100.11,"p":-0.18,"q":0.24,"r":0.11},
    {"v":8.7,"a":100.07,"b":99.98,"c":99.96,"p":0.07,"q":-0.02,"r":-0.04},
    {"v":8.75,"a":100.2,"b":100.31,"c":100.24,"p":0.2,"q":0.31,"r":0.24},
    {"v":8.8,"a":99.71,"b":99.79,"c":99.83,"p":-0.29,"q":-0.21,"r":-0.17},
    {"v":8.85,"a":100.15,"b":100.09,"c":100.07,"p":0.15,"q":0.09,"r":0.07},
    {"v":8.9,"a":99.91,"b":99.88,"c":100.3,"p":-0.09,"q":-0.12,"r":0.3},
    {"v":8.95,"a":100.35,"b":100.38,"c":99.9,"p":0.35,"q":0.38,"r":-0.1},
    {"v":9.0,"a":99.87,"b":99.73,"c":100.16,"p":-0.13,"q":-0.27,"r":0.16},
    {"v":9.05,"a":100.03,"b":100.12,"c":99.73,"p":0.03,"q":0.12,"r":-0.27},
    {"v":9.1,"a":100.24,"b":99.94,"c":100.09,"p":0.24,"q":-0.06,"r":0.09},
    {"v":9.15,"a":99.65,"b":100.2,"c":99.98,"p":-0.35,"q":0.2,"r":-0.02},
    {"v":9.2,"a":100.18,"b":99.66,"c":100.27,"p":0.18,"q":-0.34,"r":0.27},
    {"v":9.25,"a":99.95,"b":100.05,"c":99.81,"p":-0.05,"q":0.05,"r":-0.19},
    {"v":9.3,"a":100.27,"b":100.29,"c":100.12,"p":0.27,"q":0.29,"r":0.12},
    {"v":9.35,"a":99.84,"b":99.86,"c":99.91,"p":-0.16,"q":-0.14,"r":-0.09},
    {"v":9.4,"a":100.1,"b":100.17,"c":100.33,"p":0.1,"q":0.17,"r":0.33},
    {"v":9.45,"a":99.74,"b":99.77,"c":99.77,"p":-0.26,"q":-0.23,"r":-0.23},
    {"v":9.5,"a":100.46,"b":100.07,"c":100.06,"p":0.46,"q":0.07,"r":0.06},
    {"v":9.55,"a":99.9,"b":100.33,"c":100.2,"p":-0.1,"q":0.33,"r":0.2},
    {"v":9.6,"a":100.14,"b":99.82,"c":99.86,"p":0.14,"q":-0.18,"r":-0.14},
    {"v":9.65,"a":99.79,"b":100.02,"c":100.25,"p":-0.21,"q":0.02,"r":0.25},
    {"v":9.7,"a":100.06,"b":100.26,"c":99.69,"p":0.06,"q":0.26,"r":-0.31},
    {"v":9.75,"a":100.31,"b":99.69,"c":100.1,"p":0.31,"q":-0.31,"r":0.1},
    {"v":9.8,"a":99.86,"b":100.13,"c":99.95,"p":-0.14,"q":0.13,"r":-0.05},
    {"v":9.85,"a":100.19,"b":99.91,"c":100.22,"p":0.19,"q":-0.09,"r":0.22},
    {"v":9.9,"a":99.7,"b":100.22,"c":99.82,"p":-0.3,"q":0.22,"r":-0.18},
    {"v":9.95,"a":100.02,"b":99.75,"c":100.04,"p":0.02,"q":-0.25,"r":0.04},
    {"v":10.0,"a":100.22,"b":100.36,"c":100.31,"p":0.22,"q":0.36,"r":0.31},
    {"v":10.05,"a":99.81,"b":99.9,"c":99.74,"p":-0.19,"q":-0.1,"r":-0.26},
    {"v":10.1,"a":100.11,"b":100.15,"c":100.11,"p":0.11,"q":0.15,"r":0.11},
    {"v":10.15,"a":99.94,"b":99.72,"c":99.92,"p":-0.06,"q":-0.28,"r":-0.08},
    {"v":10.2,"a":100.33,"b":100.19,"c":100.16,"p":0.33,"q":0.19,"r":0.16},
    {"v":10.25,"a":99.76,"b":99.97,"c":99.67,"p":-0.24,"q":-0.03,"r":-0.33},
    {"v":10.3,"a":100.08,"b":100.28,"c":100.19,"p":0.08,"q":0.28,"r":0.19},
    {"v":10.35,"a":100.17,"b":99.8,"c":99.97,"p":0.17,"q":-0.2,"r":-0.03},
    {"v":10.4,"a":99.68,"b":100.44,"c":100.24,"p":-0.32,"q":0.44,"r":0.24},
    {"v":10.45,"a":100.13,"b":99.89,"c":99.84,"p":0.13,"q":-0.11,"r":-0.16},
    {"v":10.5,"a":99.97,"b":100.09,"c":100.08,"p":-0.03,"q":0.09,"r":0.08},
    {"v":10.55,"a":100.29,"b":99.67,"c":100.29,"p":0.29,"q":-0.33,"r":0.29},
    {"v":10.6,"a":99.85,"b":100.18,"c":99.79,"p":-0.15,"q":0.18,"r":-0.21},
    {"v":10.65,"a":100.05,"b":100.03,"c":100.06,"p":0.05,"q":0.03,"r":0.06},
    {"v":10.7,"a":100.21,"b":99.76,"c":100.36,"p":0.21,"q":-0.24,"r":0.36},
    {"v":10.75,"a":99.73,"b":100.27,"c":99.9,"p":-0.27,"q":0.27,"r":-0.1},
    {"v":10.8,"a":100.1,"b":99.94,"c":100.15,"p":0.1,"q":-0.06,"r":0.15},
    {"v":10.85,"a":99.92,"b":100.2,"c":99.72,"p":-0.08,"q":0.2,"r":-0.28},
    {"v":10.9,"a":100.34,"b":99.71,"c":100.02,"p":0.34,"q":-0.29,"r":0.02},
    {"v":10.95,"a":99.8,"b":100.11,"c":100.2,"p":-0.2,"q":0.11,"r":0.2},
    {"v":11.0,"a":100.16,"b":100.32,"c":99.86,"p":0.16,"q":0.32,"r":-0.14},
    {"v":11.05,"a":99.96,"b":99.83,"c":100.27,"p":-0.04,"q":-0.17,"r":0.27},
    {"v":11.1,"a":100.25,"b":100.05,"c":99.93,"p":0.25,"q":0.05,"r":-0.07},
    {"v":11.15,"a":99.67,"b":100.24,"c":100.12,"p":-0.33,"q":0.24,"r":0.12},
    {"v":11.2,"a":100.09,"b":99.87,"c":99.75,"p":0.09,"q":-0.13,"r":-0.25},
    {"v":11.25,"a":100.2,"b":100.16,"c":100.18,"p":0.2,"q":0.16,"r":0.18},
    {"v":11.3,"a":99.88,"b":99.74,"c":99.95,"p":-0.12,"q":-0.26,"r":-0.05},
    {"v":11.35,"a":100.28,"b":100.1,"c":100.23,"p":0.28,"q":0.1,"r":0.23},
    {"v":11.4,"a":99.78,"b":100.29,"c":99.83,"p":-0.22,"q":0.29,"r":-0.17},
    {"v":11.45,"a":100.04,"b":99.92,"c":100.09,"p":0.04,"q":-0.08,"r":0.09},
    {"v":11.5,"a":100.17,"b":100.21,"c":99.71,"p":0.17,"q":0.21,"r":-0.29},
    {"v":11.55,"a":99.9,"b":99.86,"c":100.14,"p":-0.1,"q":-0.14,"r":0.14}
  ]},
  "resolve": {"scale": {"y": "independent"}},
  "layer": [
    {
      "layer": [
        {
          "mark": {"type": "line", "color": "black", "strokeWidth": 1.6},
          "encoding": {
            "x": {
              "field": "v",
              "type": "quantitative",
              "scale": {"domain": [-12, 12], "nice": false, "zero": false},
              "axis": {
                "values": [-12,-11,-10,-9,-8,-7,-6,-5,-4,-3,-2,-1,0,1,2,3,4,5,6,7,8,9,10,11,12],
                "labelExpr": "datum.value % 4 === 0 ? '' + datum.value : ''",
                "tickSize": {"condition": {"test": "datum.value % 4 === 0", "value": 20}, "value": 10},
                "tickWidth": 2,
                "tickColor": "black",
                "domainColor": "black",
                "domainWidth": 2,
                "grid": false,
                "labelFlush": false,
                "labelOverlap": false,
                "labelFont": "Liberation Serif",
                "labelFontSize": 37,
                "labelColor": "black",
                "labelPadding": 13,
                "title": "υ (mm/s)",
                "titleFont": "Liberation Serif",
                "titleFontSize": 36,
                "titleFontWeight": "normal",
                "titleColor": "black",
                "titlePadding": 9
              }
            },
            "y": {"field": "f", "type": "quantitative", "scale": {"domain": [42.9, 102.25], "nice": false, "zero": false}, "axis": null}
          }
        },
        {
          "mark": {"type": "circle", "size": 30, "opacity": 1, "color": "black"},
          "encoding": {
            "x": {"field": "v", "type": "quantitative"},
            "y": {"field": "a", "type": "quantitative", "scale": {"domain": [42.9, 102.25], "nice": false, "zero": false}, "axis": null}
          }
        },
        {
          "data": {"values": [{"part": "left leg"}]},
          "mark": {"type": "rule", "color": "black", "strokeWidth": 1.6},
          "encoding": {"x": {"datum": -0.11}, "y": {"datum": 101.4, "scale": {"domain": [42.9, 102.25], "nice": false, "zero": false}, "axis": null}, "y2": {"datum": 100.8}}
        },
        {
          "data": {"values": [{"part": "right leg"}]},
          "mark": {"type": "rule", "color": "black", "strokeWidth": 1.6},
          "encoding": {"x": {"datum": 0.39}, "y": {"datum": 101.4, "scale": {"domain": [42.9, 102.25], "nice": false, "zero": false}, "axis": null}, "y2": {"datum": 100.8}}
        },
        {
          "data": {"values": [{"part": "top"}]},
          "mark": {"type": "rule", "color": "black", "strokeWidth": 1.6},
          "encoding": {"x": {"datum": -0.11}, "x2": {"datum": 0.39}, "y": {"datum": 101.4, "scale": {"domain": [42.9, 102.25], "nice": false, "zero": false}, "axis": null}}
        },
        {
          "data": {"values": [{"label": "T"}]},
          "mark": {"type": "text", "font": "Liberation Serif", "fontStyle": "italic", "fontSize": 36, "align": "left", "baseline": "alphabetic", "color": "black"},
          "encoding": {"text": {"field": "label"}, "x": {"datum": 3.88}, "y": {"datum": 93.75, "scale": {"domain": [42.9, 102.25], "nice": false, "zero": false}, "axis": null}}
        },
        {
          "data": {"values": [{"label": "= 640.3 K"}]},
          "mark": {"type": "text", "font": "Liberation Serif", "fontSize": 36, "align": "left", "baseline": "alphabetic", "color": "black"},
          "encoding": {"text": {"field": "label"}, "x": {"datum": 5.08}, "y": {"datum": 93.75, "scale": {"domain": [42.9, 102.25], "nice": false, "zero": false}, "axis": null}}
        }
      ]
    },
    {
      "mark": {"type": "line", "color": "black", "strokeWidth": 1.7},
      "encoding": {
        "x": {"field": "v", "type": "quantitative"},
        "y": {"field": "p", "type": "quantitative", "scale": {"domain": [-27.167, 12.4], "nice": false, "zero": false}, "axis": null}
      }
    },
    {
      "layer": [
        {
          "mark": {"type": "line", "color": "black", "strokeWidth": 1.6},
          "encoding": {
            "x": {"field": "v", "type": "quantitative"},
            "y": {"field": "f", "type": "quantitative", "scale": {"domain": [62.55, 121.9], "nice": false, "zero": false}, "axis": null}
          }
        },
        {
          "mark": {"type": "circle", "size": 30, "opacity": 1, "color": "black"},
          "encoding": {
            "x": {"field": "v", "type": "quantitative"},
            "y": {"field": "b", "type": "quantitative", "scale": {"domain": [62.55, 121.9], "nice": false, "zero": false}, "axis": null}
          }
        },
        {
          "data": {"values": [{"part": "left leg"}]},
          "mark": {"type": "rule", "color": "black", "strokeWidth": 1.6},
          "encoding": {"x": {"datum": -0.11}, "y": {"datum": 101.4, "scale": {"domain": [62.55, 121.9], "nice": false, "zero": false}, "axis": null}, "y2": {"datum": 100.8}}
        },
        {
          "data": {"values": [{"part": "right leg"}]},
          "mark": {"type": "rule", "color": "black", "strokeWidth": 1.6},
          "encoding": {"x": {"datum": 0.39}, "y": {"datum": 101.4, "scale": {"domain": [62.55, 121.9], "nice": false, "zero": false}, "axis": null}, "y2": {"datum": 100.8}}
        },
        {
          "data": {"values": [{"part": "top"}]},
          "mark": {"type": "rule", "color": "black", "strokeWidth": 1.6},
          "encoding": {"x": {"datum": -0.11}, "x2": {"datum": 0.39}, "y": {"datum": 101.4, "scale": {"domain": [62.55, 121.9], "nice": false, "zero": false}, "axis": null}}
        },
        {
          "data": {"values": [{"label": "T"}]},
          "mark": {"type": "text", "font": "Liberation Serif", "fontStyle": "italic", "fontSize": 36, "align": "left", "baseline": "alphabetic", "color": "black"},
          "encoding": {"text": {"field": "label"}, "x": {"datum": 3.8}, "y": {"datum": 95.2, "scale": {"domain": [62.55, 121.9], "nice": false, "zero": false}, "axis": null}}
        },
        {
          "data": {"values": [{"label": "= 664.6K"}]},
          "mark": {"type": "text", "font": "Liberation Serif", "fontSize": 36, "align": "left", "baseline": "alphabetic", "color": "black"},
          "encoding": {"text": {"field": "label"}, "x": {"datum": 5.0}, "y": {"datum": 95.2, "scale": {"domain": [62.55, 121.9], "nice": false, "zero": false}, "axis": null}}
        }
      ]
    },
    {
      "mark": {"type": "line", "color": "black", "strokeWidth": 1.7},
      "encoding": {
        "x": {"field": "v", "type": "quantitative"},
        "y": {"field": "q", "type": "quantitative", "scale": {"domain": [-13.967, 25.6], "nice": false, "zero": false}, "axis": null}
      }
    },
    {
      "layer": [
        {
          "mark": {"type": "line", "color": "black", "strokeWidth": 1.6},
          "encoding": {
            "x": {"field": "v", "type": "quantitative"},
            "y": {"field": "f", "type": "quantitative", "scale": {"domain": [82.45, 141.8], "nice": false, "zero": false}, "axis": null}
          }
        },
        {
          "mark": {"type": "circle", "size": 30, "opacity": 1, "color": "black"},
          "encoding": {
            "x": {"field": "v", "type": "quantitative"},
            "y": {"field": "c", "type": "quantitative", "scale": {"domain": [82.45, 141.8], "nice": false, "zero": false}, "axis": null}
          }
        },
        {
          "data": {"values": [{"part": "left leg"}]},
          "mark": {"type": "rule", "color": "black", "strokeWidth": 1.6},
          "encoding": {"x": {"datum": -0.11}, "y": {"datum": 101.4, "scale": {"domain": [82.45, 141.8], "nice": false, "zero": false}, "axis": null}, "y2": {"datum": 100.8}}
        },
        {
          "data": {"values": [{"part": "right leg"}]},
          "mark": {"type": "rule", "color": "black", "strokeWidth": 1.6},
          "encoding": {"x": {"datum": 0.39}, "y": {"datum": 101.4, "scale": {"domain": [82.45, 141.8], "nice": false, "zero": false}, "axis": null}, "y2": {"datum": 100.8}}
        },
        {
          "data": {"values": [{"part": "top"}]},
          "mark": {"type": "rule", "color": "black", "strokeWidth": 1.6},
          "encoding": {"x": {"datum": -0.11}, "x2": {"datum": 0.39}, "y": {"datum": 101.4, "scale": {"domain": [82.45, 141.8], "nice": false, "zero": false}, "axis": null}}
        },
        {
          "data": {"values": [{"label": "T"}]},
          "mark": {"type": "text", "font": "Liberation Serif", "fontStyle": "italic", "fontSize": 36, "align": "left", "baseline": "alphabetic", "color": "black"},
          "encoding": {"text": {"field": "label"}, "x": {"datum": 3.88}, "y": {"datum": 94.3, "scale": {"domain": [82.45, 141.8], "nice": false, "zero": false}, "axis": null}}
        },
        {
          "data": {"values": [{"label": "= 725.4 K"}]},
          "mark": {"type": "text", "font": "Liberation Serif", "fontSize": 36, "align": "left", "baseline": "alphabetic", "color": "black"},
          "encoding": {"text": {"field": "label"}, "x": {"datum": 5.08}, "y": {"datum": 94.3, "scale": {"domain": [82.45, 141.8], "nice": false, "zero": false}, "axis": null}}
        }
      ]
    },
    {
      "mark": {"type": "line", "color": "black", "strokeWidth": 1.7},
      "encoding": {
        "x": {"field": "v", "type": "quantitative"},
        "y": {"field": "r", "type": "quantitative", "scale": {"domain": [-0.667, 38.9], "nice": false, "zero": false}, "axis": null}
      }
    }
  ]
}
